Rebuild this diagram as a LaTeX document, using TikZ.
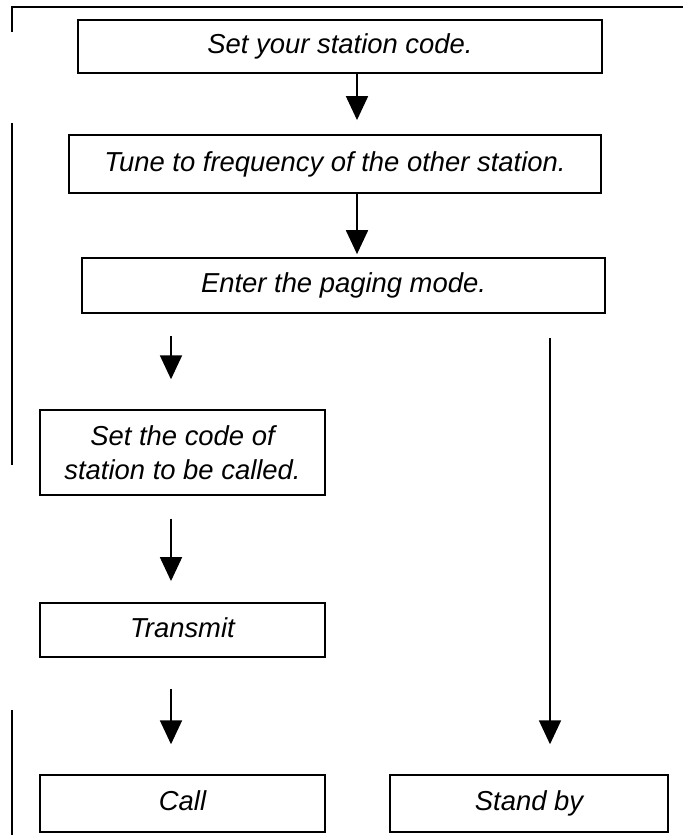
\documentclass[tikz,border=0pt]{standalone}
\usepackage{fontspec}
\setmainfont{Liberation Sans}
\usetikzlibrary{arrows.meta}

\begin{document}
\begin{tikzpicture}[x = 0.02cm, y = -0.02cm, line width = 1pt,
                        stepbox/.style = {rectangle, draw, inner sep = 0pt,
                                          text height = 11.5pt, text depth = 3.5pt,
                                          font = \fontsize{15.6}{19.5}\selectfont\itshape},
                        twoline/.style = {stepbox, align = center, text height = , text depth = },
                        flow/.style = {-{Triangle[length = 13.6pt, width = 12.5pt]}},
                        frame/.style = {line width = 0.8pt}]
      \useasboundingbox (0, 0) rectangle (683, 835);

      % outer frame
      \draw [frame] (12, 32) |- (683, 7);
      \draw [frame] (12, 123) -- (12, 465);
      \draw [frame] (12, 710) -- (12, 835);

      \node [stepbox, minimum width = 10.48cm, minimum height = 1.06cm] (code) at (340, 46.5){Set your station code.};
      \node [stepbox, minimum width = 10.64cm, minimum height = 1.16cm] (tune) at (335, 164){Tune to frequency of the other station.};
      \node [stepbox, minimum width = 10.46cm, minimum height = 1.10cm] (page) at (343.5, 285.5){Enter the paging mode.};
      \node [twoline, minimum width = 5.70cm, minimum height = 1.70cm] (callee) at (182.5, 452.5){Set the code of\\station to be called.};
      \node [stepbox, minimum width = 5.70cm, minimum height = 1.08cm] (tx) at (182.5, 630){Transmit};
      \node [stepbox, minimum width = 5.70cm, minimum height = 1.14cm] (call) at (182.5, 803.5){Call};
      \node [stepbox, minimum width = 5.56cm, minimum height = 1.14cm] (standby) at (529, 803.5){Stand by};

      \coordinate (mid) at (357, 0);
      \coordinate (left) at (171, 0);
      \coordinate (right) at (550, 0);

      \draw [flow, shorten >= 8pt] (code.south -| mid) -- (tune.north -| mid);
      \draw [flow, shorten >= 1.7pt] (tune.south -| mid) -- (page.north -| mid);
      \draw [flow, shorten <= 12.5pt, shorten >= 17pt] (page.south -| left) -- (callee.north -| left);
      \draw [flow, shorten <= 13pt, shorten >= 12pt] (callee.south -| left) -- (tx.north -| left);
      \draw [flow, shorten <= 17.6pt, shorten >= 17pt] (tx.south -| left) -- (call.north -| left);
      \draw [flow, shorten <= 14pt, shorten >= 17pt] (page.south -| right) -- (standby.north -| right);
      \end{tikzpicture}
\end{document}
